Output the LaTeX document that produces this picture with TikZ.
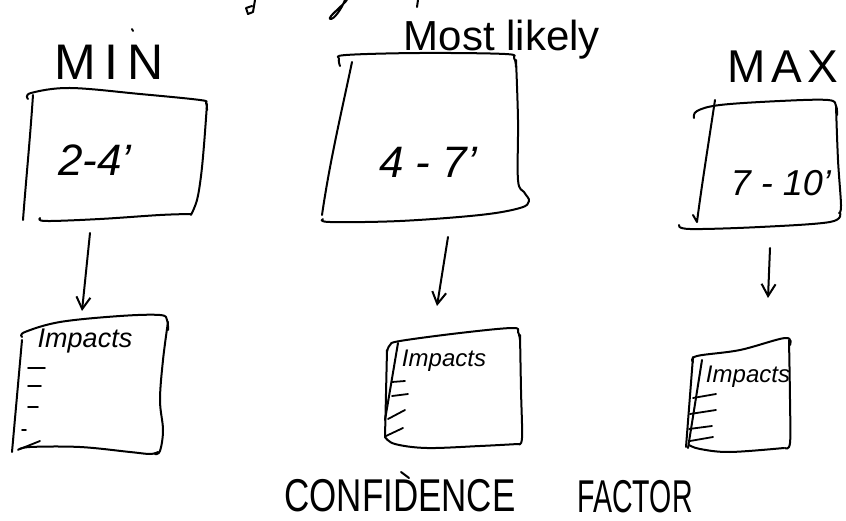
\documentclass[tikz,border=0pt]{standalone}
\usepackage{fontspec}
\setmainfont{Liberation Sans}
\usetikzlibrary{arrows.meta}
\newcommand{\fsz}[1]{\fontsize{#1}{#1}\selectfont}
\begin{document}
\begin{tikzpicture}[x=1pt,y=-1pt,
  ink/.style={line width=2pt, line cap=round, line join=round},
  pen/.style={ink, smooth, tension=0.6},
  tickmark/.style={line width=1.8pt, line cap=round},
  flow/.style={ink, -{Straight Barb[length=12pt,width=14pt,line width=2pt]}},
  hand/.style={inner sep=0pt, anchor=center},
  headtxt/.style={hand, font=\fsz{50}},
  rangetxt/.style={hand, font=\fsz{44}\itshape},
  impacttxt/.style={hand, font=\fsz{24}\itshape}]
\useasboundingbox (0,0) rectangle (846,521);

% partly visible strokes along the top edge
\draw[ink] (255,0) -- (253,12) -- (248,14) -- (246,8) -- (252,6);
\draw[ink] (347,0) .. controls (340,8) and (328,17) .. (330,19) .. controls (334,20) and (342,8) .. (345,0);
\draw[ink] (418,0) -- (417,7);

% column headings
\node[headtxt] (hmin) at (109,62) {M\,I\,N};
\draw[ink] (132,29) -- (133,31);
\node[headtxt, font=\fsz{42}] (hml) at (502,40) {Most likely};
\node[headtxt, font=\fsz{46}\addfontfeature{LetterSpace=12}, anchor=west] (hmax) at (727,67) {MAX};

% range boxes
\draw[pen] plot coordinates {(28,99) (31,93) (70,88) (140,94) (200,100) (206,103) (207,110)};
\draw[pen] plot coordinates {(207,104) (204,145) (201,176) (197,200) (191,215)};
\draw[pen] plot coordinates {(40,218) (46,221) (100,219) (160,215) (191,214)};
\draw[ink] (33,95) .. controls (30,140) and (26,180) .. (23,220);
\node[rangetxt] (r1) at (95,160) {2-4'};

\draw[pen] plot coordinates {(340,66) (339,59) (346,55) (420,53) (505,54) (514,58) (516,67)};
\draw[pen] plot coordinates {(516,60) (518,120) (518,180) (524,192) (529,201) (520,208) (480,215) (400,221) (330,222) (323,219)};
\draw[ink] (352,62) .. controls (342,110) and (330,160) .. (322,215);
\node[rangetxt] (r2) at (428,162) {4 - 7'};

\draw[pen] plot coordinates {(694,118) (697,111) (720,105) (780,101) (828,100) (836,106) (837,115)};
\draw[pen] plot coordinates {(836,106) (838,160) (841,205) (839,213)};
\draw[pen] plot coordinates {(679,225) (690,229) (760,227) (830,222) (840,213)};
\draw[ink] (715,100) .. controls (709,140) and (701,190) .. (697,222) -- (693,215);
\node[rangetxt, font=\fsz{36}\itshape] (r3) at (781,183) {7 - 10'};

% arrows from ranges to impacts
\coordinate (s1) at (90,233);  \coordinate (e1) at (82,311);
\coordinate (s2) at (448,237); \coordinate (e2) at (437,306);
\coordinate (s3) at (770,248); \coordinate (e3) at (768,298);
\draw[flow] (s1) -- (e1);
\draw[flow] (s2) -- (e2);
\draw[flow] (s3) -- (e3);

% impact sheets
\draw[pen] plot coordinates {(22,337) (25,332) (60,322) (120,316) (160,315) (167,320) (168,330)};
\draw[pen] plot coordinates {(168,322) (163,360) (160,400) (163,430) (160,451) (155,454)};
\draw[pen] plot coordinates {(18,450) (30,447) (80,447) (130,452) (150,454) (158,452)};
\draw[ink] (22,340) -- (12,452);
\draw[tickmark] (28,368) -- (45,368) (28,386) -- (41,386) (28,407) -- (38,407) (22,430) -- (26,430) (20,449) -- (40,441);
\node[impacttxt, font=\fsz{27}\itshape] (i1) at (85,341) {Impacts};

\draw[pen] plot coordinates {(387,352) (390,345) (400,341) (460,333) (512,328) (518,332) (520,340)};
\draw[pen] plot coordinates {(520,335) (521,390) (522,438) (518,444)};
\draw[pen] plot coordinates {(385,437) (395,444) (427,448) (480,446) (518,444)};
\draw[ink] (387,350) -- (385,437);
\draw[ink] (398,343) -- (385,420);
\draw[tickmark] (392,382) -- (405,381) (392,396) -- (408,394) (388,419) -- (405,410) (386,436) -- (403,428);
\node[impacttxt] (i2) at (444,361) {Impacts};

\draw[pen] plot coordinates {(693,362) (697,356) (740,350) (785,338) (790,345)};
\draw[pen] plot coordinates {(789,340) (790,400) (790,443) (785,448)};
\draw[pen] plot coordinates {(689,445) (700,449) (730,452) (784,448)};
\draw[ink] (693,357) -- (686,447);
\draw[ink] (702,360) -- (688,448);
\draw[tickmark] (693,398) -- (716,394) (690,414) -- (716,410) (689,429) -- (712,426) (690,441) -- (713,437);
\node[impacttxt] (i3) at (748,377) {Impacts};

% footer
\node[hand, font=\fsz{46}, xscale=0.76] (conf) at (400,496) {CONFIDENCE};
\draw[ink] (401,472) -- (409,478);
\node[hand, font=\fsz{46}, xscale=0.62] (fact) at (635,497) {FACTOR};
\end{tikzpicture}
\end{document}
